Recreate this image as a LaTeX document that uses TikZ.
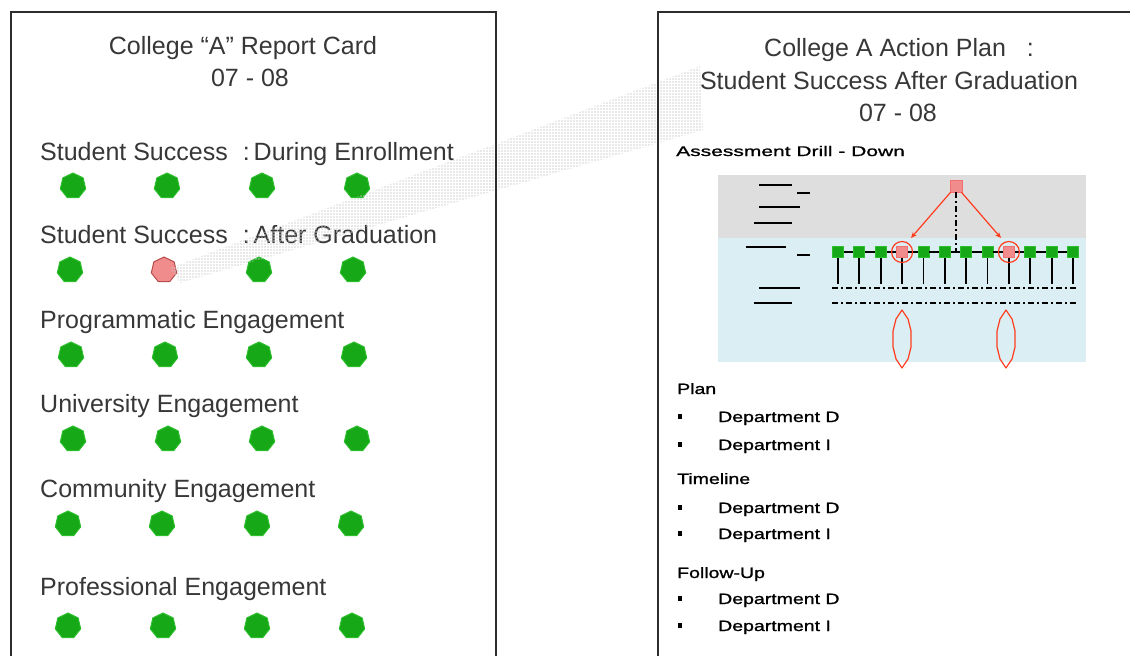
\documentclass[tikz,border=0pt]{standalone}
\usepackage{fontspec}
\setmainfont{Liberation Sans}
\newfontfamily\pixfont[FakeStretch=1.3,FakeBold=1.2]{Liberation Sans}
\newfontfamily\pixwide[FakeStretch=1.5,FakeBold=1.2]{Liberation Sans}
\usetikzlibrary{shapes.geometric,patterns,arrows.meta,calc}

\definecolor{txt}{RGB}{55,55,55}
\definecolor{frame}{RGB}{45,45,45}
\definecolor{gfill}{RGB}{22,168,22}
\definecolor{gedge}{RGB}{45,190,45}
\definecolor{rfill}{RGB}{240,140,140}
\definecolor{redge}{RGB}{185,75,75}
\definecolor{hilite}{RGB}{255,60,30}
\definecolor{upperband}{RGB}{222,222,222}
\definecolor{lowerband}{RGB}{219,238,243}

% square dot grid for the callout band
\pgfdeclarepatternformonly{griddots}{\pgfqpoint{0pt}{0pt}}{\pgfqpoint{3pt}{3pt}}{\pgfqpoint{3pt}{3pt}}{%
  \pgfpathrectangle{\pgfqpoint{0.5pt}{0.5pt}}{\pgfqpoint{1.5pt}{1.5pt}}\pgfusepath{fill}}

\begin{document}
\begin{tikzpicture}[x=1pt,y=-1pt,
  panel/.style={draw=frame,line width=2pt},
  title/.style={anchor=base,text=txt,font=\fontsize{25}{30}\selectfont,inner sep=0},
  rowlabel/.style={anchor=base west,text=txt,font=\fontsize{25}{30}\selectfont,inner sep=0},
  gdot/.style={regular polygon,regular polygon sides=7,minimum size=26,inner sep=0,
    fill=gfill,draw=gedge,line width=1pt},
  rdot/.style={gdot,fill=rfill,draw=redge},
  small/.style={anchor=base west,font=\pixfont\fontsize{15}{18}\selectfont,inner sep=0},
  bulletmark/.style={rectangle,fill=black,minimum width=4,minimum height=5,inner sep=0},
  gsq/.style={rectangle,minimum size=11,inner sep=0,fill=gfill,draw=gedge,line width=0.8pt},
  rsq/.style={rectangle,minimum size=11,inner sep=0,fill=rfill,draw=rfill!80!red,line width=0.8pt},
  ring/.style={circle,minimum size=21,inner sep=0,draw=hilite,line width=1.2pt},
  wire/.style={draw=black,line width=1.8pt},
  dashdot/.style={draw=black,line width=1.8pt,dash pattern=on 6pt off 3pt on 2pt off 3pt},
  redarrow/.style={draw=hilite,line width=1.2pt,-{Stealth[length=6pt,width=5pt]}},
  lens/.style={draw=hilite,line width=1.2pt,line join=round},
  legendline/.style={draw=black,line width=2pt}
]
\useasboundingbox (0,0) rectangle (1130,656);

% ---------- left panel: report card ----------
\node[title] (rcTitle) at (243,54) {College “A” Report Card};
\node[title] (rcYear) at (250,86) {07 - 08};

\node[rowlabel] (L1) at (40,160) {Student Success\hspace{15pt}:\hspace{4pt}During Enrollment};
\node[rowlabel] (L2) at (40,243) {Student Success\hspace{15pt}:\hspace{4pt}After Graduation};
\node[rowlabel] (L3) at (40,328) {Programmatic Engagement};
\node[rowlabel] (L4) at (40,412) {University Engagement};
\node[rowlabel] (L5) at (40,497) {Community Engagement};
\node[rowlabel] (L6) at (40,595) {Professional Engagement};

\node[gdot] (d11) at (73,186) {};  \node[gdot] (d12) at (167,186) {};
\node[gdot] (d13) at (262,186) {}; \node[gdot] (d14) at (357,186) {};
\node[gdot] (d21) at (70,270) {};  \node[rdot] (d22) at (164,270) {};
\node[gdot] (d23) at (259,270) {}; \node[gdot] (d24) at (353,270) {};
\node[gdot] (d31) at (71,355) {};  \node[gdot] (d32) at (165,355) {};
\node[gdot] (d33) at (259,355) {}; \node[gdot] (d34) at (354,355) {};
\node[gdot] (d41) at (73,439) {};  \node[gdot] (d42) at (168,439) {};
\node[gdot] (d43) at (262,439) {}; \node[gdot] (d44) at (357,439) {};
\node[gdot] (d51) at (68,524) {};  \node[gdot] (d52) at (162,524) {};
\node[gdot] (d53) at (257,524) {}; \node[gdot] (d54) at (351,524) {};
\node[gdot] (d61) at (68,626) {};  \node[gdot] (d62) at (163,626) {};
\node[gdot] (d63) at (257,626) {}; \node[gdot] (d64) at (352,626) {};

% ---------- right panel: action plan ----------
\node[title] (apTitleA) at (899,56) {College A Action Plan\ \ \ :};
\node[title] (apTitleB) at (889,89) {Student Success After Graduation};
\node[title] (apYear) at (898,121) {07 - 08};
\node[anchor=base west,inner sep=0,font=\pixwide\fontsize{14}{16}\selectfont] (drill) at (676,156) {Assessment Drill - Down};

% drill-down chart
\fill[upperband] (718,175) rectangle (1086,238);
\fill[lowerband] (718,238) rectangle (1086,362);

\draw[legendline] (759,185) -- (792,185);
\draw[legendline] (797,193) -- (810,193);
\draw[legendline] (759,207) -- (800,207);
\draw[legendline] (754,223) -- (792,223);
\draw[legendline] (746,247) -- (786,247);
\draw[legendline] (797,255) -- (810,255);
\draw[legendline] (759,288) -- (800,288);
\draw[legendline] (754,303) -- (792,303);

\coordinate (rowA) at (832,288);  \coordinate (rowAend) at (1078,288);
\coordinate (rowB) at (832,303);  \coordinate (rowBend) at (1078,303);
\draw[dashdot] (rowA) -- (rowAend);
\draw[dashdot] (rowB) -- (rowBend);

\coordinate (stemEnd) at (0,284);
\foreach \i in {1,...,12}{
  \pgfmathsetmacro\xx{838+21.36*(\i-1)}
  \coordinate (p\i) at (\xx,252);
}
\foreach \i/\kind in {1/gsq,2/gsq,3/gsq,4/rsq,5/gsq,6/gsq,7/gsq,8/gsq,9/rsq,10/gsq,11/gsq,12/gsq}{
  \node[\kind] (n\i) at (p\i) {};
  \draw[wire] (n\i.south) -- (n\i.south |- stemEnd);
}
\foreach \i [evaluate=\i as \j using int(\i+1)] in {1,...,11}{
  \draw[wire] (n\i) -- (n\j);
}
\node[ring] (c4) at (p4) {};
\node[ring] (c9) at (p9) {};

\node[rsq,minimum size=12] (top) at (956,186) {};
\coordinate (junction) at (956,252);
\draw[dashdot] (top) -- (junction);
\coordinate (a1) at (911,238);
\coordinate (a2) at (1001,238);
\draw[redarrow] (top) -- (a1);
\draw[redarrow] (top) -- (a2);

% pointed loops under the flagged columns
\coordinate (e1) at (902,339);
\coordinate (e2) at (1006,339);
\foreach \c in {e1,e2}{
  \draw[lens] ($(\c)+(0,-29)$) -- ($(\c)+(6,-20)$) -- ($(\c)+(9,-8)$) -- ($(\c)+(9,8)$)
    -- ($(\c)+(6,20)$) -- ($(\c)+(0,29)$) -- ($(\c)+(-6,20)$) -- ($(\c)+(-9,8)$)
    -- ($(\c)+(-9,-8)$) -- ($(\c)+(-6,-20)$) -- cycle;
}

% plan list
\node[small] (plan) at (677,394) {Plan};
\node[small] (planD) at (718,422) {Department D};
\node[small] (planI) at (718,450) {Department I};
\node[small] (time) at (677,484) {Timeline};
\node[small] (timeD) at (718,513) {Department D};
\node[small] (timeI) at (718,539) {Department I};
\node[small] (follow) at (677,578) {Follow-Up};
\node[small] (followD) at (718,604) {Department D};
\node[small] (followI) at (718,631) {Department I};
\foreach \y in {416,444,507,533,598,625}{
  \node[bulletmark] at (680,\y) {};
}

% callout band from the flagged dot to the action plan
\coordinate (bandA) at (170,268);
\coordinate (bandB) at (700,66);
\coordinate (bandC) at (703,130);
\coordinate (bandD) at (180,283);
\fill[pattern=griddots,pattern color=gray!40] (bandA) -- (bandB) -- (bandC) -- (bandD) -- cycle;

% panel frames
\begin{scope}
\clip (0,0) rectangle (1130,656);
\draw[panel] (11,12) rectangle (496,700);
\draw[panel] (658,12) rectangle (1160,700);
\end{scope}
\end{tikzpicture}
\end{document}
